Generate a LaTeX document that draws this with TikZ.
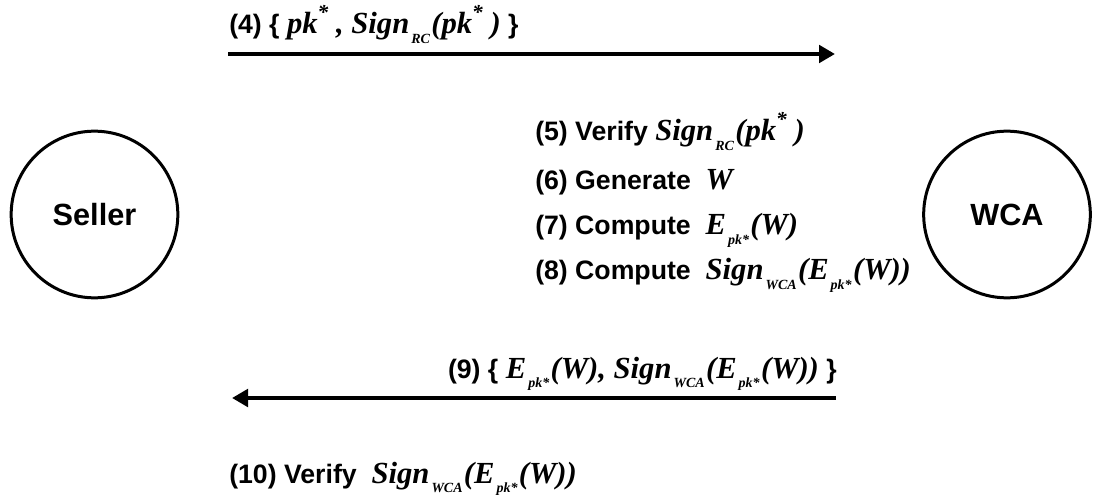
\documentclass[tikz,border=0pt]{standalone}
\usepackage{fontspec}
\setmainfont{Liberation Sans}
\newfontfamily\tnr{Liberation Serif}
\usetikzlibrary{arrows.meta}
% bold italic formula text, raised and lowered parts
\newcommand{\mth}[1]{{\fontsize{23pt}{24pt}\selectfont\tnr\bfseries\itshape #1}}
\newcommand{\lo}[1]{\kern1.5pt\raisebox{-7pt}{\fontsize{10.5pt}{10.5pt}\selectfont #1}\kern1pt}
\newcommand{\hi}[1]{\raisebox{10.5pt}{\fontsize{16pt}{16pt}\selectfont #1}}
\tikzset{
  party/.style={draw, circle, line width=2.25pt, minimum size=125pt, inner sep=0pt,
    font=\fontsize{23pt}{23pt}\selectfont\bfseries},
  msg/.style={line width=3pt, -{Triangle[length=12pt,width=13pt]}},
  lbl/.style={inner sep=0pt, anchor=base west, font=\fontsize{20pt}{21pt}\selectfont\bfseries}
}
\begin{document}
\begin{tikzpicture}[x=0.75pt, y=-0.75pt]
    \useasboundingbox (0,0) rectangle (1093,499);
    \node[party] (seller) at (94.5,214.5) {Seller};
    \node[party] (wca) at (1007,214.5) {WCA};
    % message 4
    \coordinate (s4) at (228,54); \coordinate (e4) at (835,54);
    \draw[msg] (s4) -- (e4);
    \node[lbl] (m4) at (229,34) {(4) \{ \mth{pk\hi{*} , Sign\lo{RC}(pk\hi{*} )} \}};
    % WCA steps
    \node[lbl] (m5) at (535,141) {(5) Verify \mth{Sign\lo{RC}(pk\hi{*} )}};
    \node[lbl] (m6) at (535,190) {(6) Generate\ \ \mth{W}};
    \node[lbl] (m7) at (535,235) {(7) Compute\ \ \mth{E\lo{pk*}(W)}};
    \node[lbl] (m8) at (535,280) {(8) Compute\ \ \mth{Sign\lo{WCA}(E\lo{pk*}(W))}};
    % message 9
    \node[lbl, anchor=base east] (m9) at (837,378) {(9) \{ \mth{E\lo{pk*}(W), Sign\lo{WCA}(E\lo{pk*}(W))} \}};
    \coordinate (s9) at (836,398); \coordinate (e9) at (232,398);
    \draw[msg] (s9) -- (e9);
    % seller step
    \node[lbl] (m10) at (229,483) {(10) Verify\ \ \mth{Sign\lo{WCA}(E\lo{pk*}(W))}};
\end{tikzpicture}
\end{document}
